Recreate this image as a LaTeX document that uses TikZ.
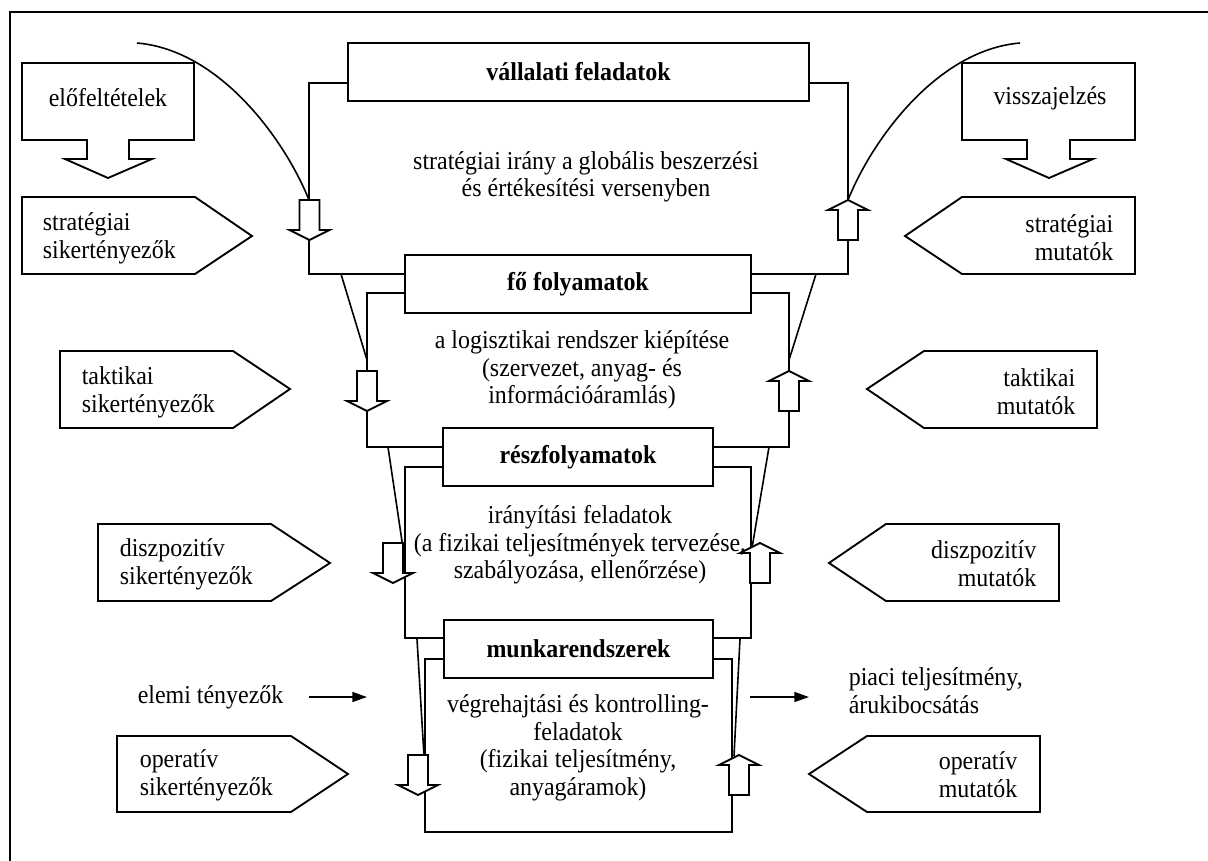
\documentclass[tikz,border=0pt]{standalone}
\usepackage{fontspec}
\setmainfont{Liberation Serif}[FakeStretch=0.93]
\usetikzlibrary{arrows.meta}
\begin{document}
\begin{tikzpicture}[x=0.75pt,y=-0.75pt,
  line width=1.2pt, line join=miter,
  box/.style={draw, line width=1.4pt, fill=white, inner sep=0pt, outer sep=0pt, minimum height=43.5pt, font=\fontsize{19.3}{21}\selectfont\bfseries},
  txt/.style={inner sep=0pt, font=\fontsize{19.3}{20.6}\selectfont, align=center},
  ltxt/.style={inner sep=0pt, font=\fontsize{19.3}{21}\selectfont, align=left, anchor=west},
  rtxt/.style={inner sep=0pt, font=\fontsize{19.3}{21}\selectfont, align=right, anchor=east},
  shp/.style={draw, line width=1.4pt, fill=white},
  frm/.style={draw, line width=1.4pt},
  fine/.style={line width=1.2pt},
  hdown/.pic={\draw[shp] (-10,0) -- (10,0) -- (10,30) -- (20,30) -- (0,40) -- (-20,30) -- (-10,30) -- cycle;},
  hup/.pic={\draw[shp] (0,0) -- (20,10) -- (10,10) -- (10,40) -- (-10,40) -- (-10,10) -- (-20,10) -- cycle;},
  flow/.style={line width=1.2pt, -{Triangle[length=11pt,width=7.5pt]}}
]
\useasboundingbox (0,0) rectangle (1208,861);
\fill[white] (0,0) rectangle (1208,861);

% outer frame (top and left edges)
\draw[line width=2pt] (10,861) -- (10,12) -- (1208,12);

% top curves
\draw[fine] (137,43) .. controls (220,50) and (285,140) .. (309,200);
\draw[fine] (1020,43) .. controls (937,50) and (872,140) .. (848,200);

% frames of the levels
\draw[frm] (348,83) -- (309,83) -- (309,274) -- (405,274);
\draw[frm] (809,83) -- (848,83) -- (848,274) -- (751,274);
\draw[frm] (405,293) -- (367,293) -- (367,447) -- (443,447);
\draw[frm] (751,293) -- (789,293) -- (789,447) -- (713,447);
\draw[frm] (443,467) -- (405,467) -- (405,638) -- (444,638);
\draw[frm] (713,467) -- (751,467) -- (751,638) -- (713,638);
\draw[frm] (444,659) -- (425,659) -- (425,832) -- (732,832) -- (732,659) -- (713,659);

% funnel lines
\draw[fine] (341,274) -- (367,360);
\draw[fine] (816,274) -- (789,360);
\draw[fine] (388,447) -- (403,548);
\draw[fine] (769,447) -- (752,548);
\draw[fine] (417,639) -- (424,756);
\draw[fine] (740,639) -- (734,756);

% level boxes
\node[box, minimum width=345.75pt] (vf) at (578.5,72) {vállalati feladatok};
\node[box, minimum width=259.5pt] (fo) at (578,284) {fő folyamatok};
\node[box, minimum width=202.5pt] (rf) at (578,457) {részfolyamatok};
\node[box, minimum width=201.75pt] (mr) at (578.5,649) {munkarendszerek};

% level texts
\node[txt] (t1) at (586,177) {stratégiai irány a globális beszerzési\\és értékesítési versenyben};
\node[txt] (t2) at (582,370) {a logisztikai rendszer kiépítése\\(szervezet, anyag- és\\információáramlás)};
\node[txt] (t3) at (580,545) {irányítási feladatok\\(a fizikai teljesítmények tervezése,\\szabályozása, ellenőrzése)};
\node[txt] (t4) at (578,748) {végrehajtási és kontrolling-\\feladatok\\(fizikai teljesítmény,\\anyagáramok)};

% hollow arrows
\pic at (309.5,200) {hdown};
\pic at (367,371) {hdown};
\pic at (393,543) {hdown};
\pic at (418,755) {hdown};
\pic at (848,200) {hup};
\pic at (789,371) {hup};
\pic at (760,543) {hup};
\pic at (739,755) {hup};

% callout arrows at the top
\draw[shp] (22,63) -- (194,63) -- (194,140) -- (129,140) -- (129,159) -- (152,159) -- (108,178) -- (65,159) -- (87,159) -- (87,140) -- (22,140) -- cycle;
\node[txt] (pre) at (108,98) {előfeltételek};
\draw[shp] (962,63) -- (1135,63) -- (1135,140) -- (1070,140) -- (1070,159) -- (1093,159) -- (1049,178) -- (1006,159) -- (1027,159) -- (1027,140) -- (962,140) -- cycle;
\node[txt] (fb) at (1050,98) {visszajelzés};

% left pentagons
\draw[shp] (22,197) -- (195,197) -- (252,236) -- (195,274) -- (22,274) -- cycle;
\node[ltxt] (ls1) at (42,238) {stratégiai\\sikertényezők};
\draw[shp] (60,351) -- (233,351) -- (290,389) -- (233,428) -- (60,428) -- cycle;
\node[ltxt] (ls2) at (81,392) {taktikai\\sikertényezők};
\draw[shp] (98,524) -- (271,524) -- (330,563) -- (271,601) -- (98,601) -- cycle;
\node[ltxt] (ls3) at (119,564) {diszpozitív\\sikertényezők};
\draw[shp] (117,736) -- (291,736) -- (348,774) -- (291,812) -- (117,812) -- cycle;
\node[ltxt] (ls4) at (139,775) {operatív\\sikertényezők};

% right pentagons
\draw[shp] (905,236) -- (962,197) -- (1135,197) -- (1135,274) -- (962,274) -- cycle;
\node[rtxt] (rs1) at (1114,238) {stratégiai\\mutatók};
\draw[shp] (867,389) -- (924,351) -- (1097,351) -- (1097,428) -- (924,428) -- cycle;
\node[rtxt] (rs2) at (1076,392) {taktikai\\mutatók};
\draw[shp] (829,563) -- (886,524) -- (1059,524) -- (1059,601) -- (886,601) -- cycle;
\node[rtxt] (rs3) at (1037,564) {diszpozitív\\mutatók};
\draw[shp] (809,774) -- (867,736) -- (1040,736) -- (1040,812) -- (867,812) -- cycle;
\node[rtxt] (rs4) at (1018,775) {operatív\\mutatók};

% inputs and outputs
\node[ltxt] (el) at (137,697) {elemi tényezők};
\node[ltxt] (pi) at (848,691) {piaci teljesítmény,\\árukibocsátás};
\coordinate (ea) at (309,697);
\coordinate (eb) at (367,697);
\coordinate (pa) at (750,697);
\coordinate (pb) at (809,697);
\draw[flow] (ea) -- (eb);
\draw[flow] (pa) -- (pb);
\end{tikzpicture}
\end{document}
